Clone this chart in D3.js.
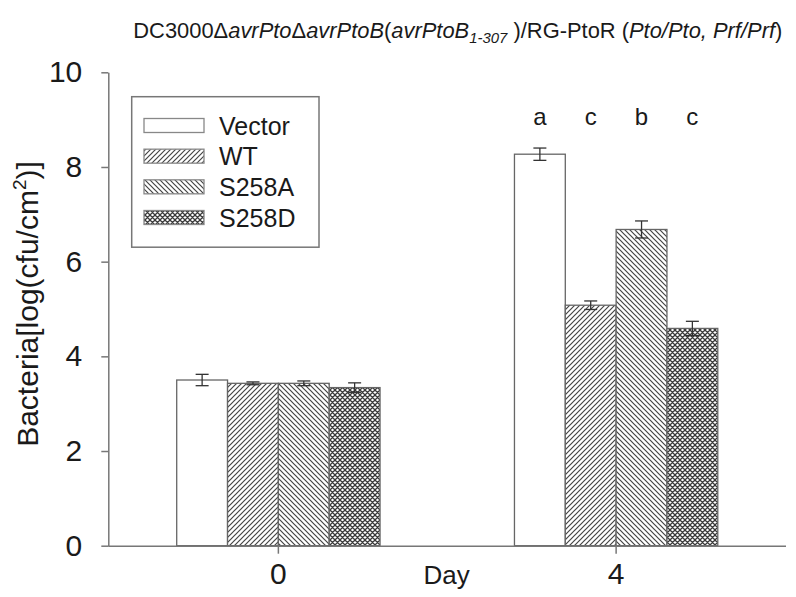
<!DOCTYPE html>
<html>
<head>
<meta charset="utf-8">
<script src="https://cdn.jsdelivr.net/npm/d3@7"></script>
<style>
  html, body { margin: 0; padding: 0; background: #fff; }
  svg { display: block; font-family: "Liberation Sans", Arial, sans-serif; }
</style>
</head>
<body>
<svg id="chart" width="796" height="597"></svg>
<script>
// ---- data ----
const days = ["0", "4"];
const series = ["Vector", "WT", "S258A", "S258D"];
const vectorMean = [3.50, 8.27];
const vectorErr  = [0.12, 0.13];
const wtMean     = [3.43, 5.08];
const wtErr      = [0.03, 0.09];
const s258aMean  = [3.43, 6.68];
const s258aErr   = [0.05, 0.18];
const s258dMean  = [3.34, 4.59];
const s258dErr   = [0.10, 0.15];
const day4Letters = ["a", "c", "b", "c"];
const yTicks = [0, 2, 4, 6, 8, 10];

const means = [vectorMean, wtMean, s258aMean, s258dMean];
const errs  = [vectorErr, wtErr, s258aErr, s258dErr];
const rows = [];
days.forEach((d, di) => series.forEach((s, si) => rows.push({day: d, series: s, mean: means[si][di], err: errs[si][di]})));

// ---- layout ----
const svg = d3.select("#chart");
const x0 = d3.scaleBand().domain(days).range([109.5, 785]).paddingInner(0.398).paddingOuter(0.199);
const x1 = d3.scaleBand().domain(series).range([0, x0.bandwidth()]);
const y = d3.scaleLinear().domain([0, 10]).range([545.7, 72.3]);

const axisColor = "#777";
const textColor = "#1a1a1a";

// ---- patterns ----
const defs = svg.append("defs");
const pWT = defs.append("pattern").attr("id", "pWT").attr("patternUnits", "userSpaceOnUse")
  .attr("width", 5).attr("height", 5);
pWT.append("rect").attr("width", 5).attr("height", 5).attr("fill", "#fff");
pWT.append("path").attr("d", "M-1,1 L1,-1 M0,5 L5,0 M4,6 L6,4").attr("stroke", "#444").attr("stroke-width", 1.2);

const pA = defs.append("pattern").attr("id", "pA").attr("patternUnits", "userSpaceOnUse")
  .attr("width", 5).attr("height", 5);
pA.append("rect").attr("width", 5).attr("height", 5).attr("fill", "#fff");
pA.append("path").attr("d", "M-1,4 L1,6 M0,0 L5,5 M4,-1 L6,1").attr("stroke", "#444").attr("stroke-width", 1.2);

const pD = defs.append("pattern").attr("id", "pD").attr("patternUnits", "userSpaceOnUse")
  .attr("width", 5).attr("height", 5);
pD.append("rect").attr("width", 5).attr("height", 5).attr("fill", "#fff");
pD.append("path").attr("d", "M-1,1 L1,-1 M0,5 L5,0 M4,6 L6,4 M-1,4 L1,6 M0,0 L5,5 M4,-1 L6,1")
  .attr("stroke", "#3a3a3a").attr("stroke-width", 1.3);

const fills = {Vector: "#fff", WT: "url(#pWT)", S258A: "url(#pA)", S258D: "url(#pD)"};

// ---- bars ----
const bars = svg.append("g");
bars.selectAll("rect").data(rows).join("rect")
  .attr("x", d => x0(d.day) + x1(d.series))
  .attr("y", d => y(d.mean))
  .attr("width", x1.bandwidth())
  .attr("height", d => y(0) - y(d.mean))
  .attr("fill", d => fills[d.series])
  .attr("stroke", "#666").attr("stroke-width", 1.3);

// ---- error bars ----
const eb = svg.append("g").attr("stroke", "#333").attr("stroke-width", 1.3);
const cx = d => x0(d.day) + x1(d.series) + x1.bandwidth() / 2;
eb.selectAll("line.v").data(rows).join("line").attr("class", "v")
  .attr("x1", cx).attr("x2", cx)
  .attr("y1", d => y(d.mean + d.err)).attr("y2", d => y(d.mean - d.err));
eb.selectAll("line.t").data(rows).join("line").attr("class", "t")
  .attr("x1", d => cx(d) - 6.5).attr("x2", d => cx(d) + 6.5)
  .attr("y1", d => y(d.mean + d.err)).attr("y2", d => y(d.mean + d.err));
eb.selectAll("line.b").data(rows).join("line").attr("class", "b")
  .attr("x1", d => cx(d) - 6.5).attr("x2", d => cx(d) + 6.5)
  .attr("y1", d => y(d.mean - d.err)).attr("y2", d => y(d.mean - d.err));

// ---- significance letters ----
svg.append("g").selectAll("text").data(series).join("text")
  .attr("x", s => x0("4") + x1(s) + x1.bandwidth() / 2)
  .attr("y", 124.5)
  .attr("text-anchor", "middle")
  .attr("font-size", 24).attr("fill", textColor)
  .text((s, i) => day4Letters[i]);

// ---- axes ----
const yAxis = svg.append("g").attr("transform", "translate(108.3,0)")
  .call(d3.axisLeft(y).tickValues(yTicks).tickFormat(d3.format("d")).tickSize(7).tickSizeOuter(0).tickPadding(19));
yAxis.select(".domain").attr("stroke", axisColor).attr("stroke-width", 1.5);
yAxis.selectAll(".tick line").attr("stroke", axisColor).attr("stroke-width", 1.5);
yAxis.selectAll(".tick text").attr("font-size", 30).attr("fill", textColor).attr("font-family", "Liberation Sans, Arial, sans-serif");

const xAxis = svg.append("g").attr("transform", "translate(0,545.7)")
  .call(d3.axisBottom(x0).tickSize(8).tickSizeOuter(0).tickPadding(9));
xAxis.select(".domain").attr("stroke", axisColor).attr("stroke-width", 1.5).attr("d", "M108.3,0.5H786");
xAxis.selectAll(".tick line").attr("stroke", axisColor).attr("stroke-width", 1.5);
xAxis.selectAll(".tick text").attr("font-size", 30).attr("fill", textColor).attr("font-family", "Liberation Sans, Arial, sans-serif");

// axis titles
svg.append("text").attr("x", 446.7).attr("y", 584).attr("text-anchor", "middle")
  .attr("font-size", 26).attr("fill", textColor).text("Day");

const yt = svg.append("text").attr("transform", "translate(37.5,304) rotate(-90)")
  .attr("text-anchor", "middle").attr("font-size", 30).attr("fill", textColor);
yt.append("tspan").text("Bacteria[log(cfu/cm");
yt.append("tspan").attr("font-size", 19).attr("dy", -12).text("2");
yt.append("tspan").attr("dy", 12).text(")]");

// ---- title ----
const tt = svg.append("text").attr("x", 133.3).attr("y", 38).attr("font-size", 22).attr("fill", textColor)
  .attr("textLength", 649).attr("lengthAdjust", "spacingAndGlyphs");
tt.append("tspan").text("DC3000Δ");
tt.append("tspan").attr("font-style", "italic").text("avrPto");
tt.append("tspan").text("Δ");
tt.append("tspan").attr("font-style", "italic").text("avrPtoB");
tt.append("tspan").text("(");
tt.append("tspan").attr("font-style", "italic").text("avrPtoB");
tt.append("tspan").attr("font-style", "italic").attr("font-size", 15).attr("dy", 5).text("1-307");
tt.append("tspan").attr("dy", -5).text(" )/RG-PtoR (");
tt.append("tspan").attr("font-style", "italic").text("Pto/Pto, Prf/Prf");
tt.append("tspan").text(")");

// ---- legend ----
const lg = svg.append("g");
lg.append("rect").attr("x", 131.7).attr("y", 96.7).attr("width", 187.3).attr("height", 150.5)
  .attr("fill", "#fff").attr("stroke", "#777").attr("stroke-width", 1.5);
const legendRowY = d3.scalePoint().domain(series).range([125.5, 217.5]);
lg.selectAll("rect.sw").data(series).join("rect").attr("class", "sw")
  .attr("x", 144).attr("y", s => legendRowY(s) - 7).attr("width", 60).attr("height", 14)
  .attr("fill", s => fills[s]).attr("stroke", "#888").attr("stroke-width", 1.3);
lg.selectAll("text").data(series).join("text")
  .attr("x", 219).attr("y", s => legendRowY(s) + 9)
  .attr("font-size", 25).attr("fill", textColor).text(s => s);
</script>
</body>
</html>
